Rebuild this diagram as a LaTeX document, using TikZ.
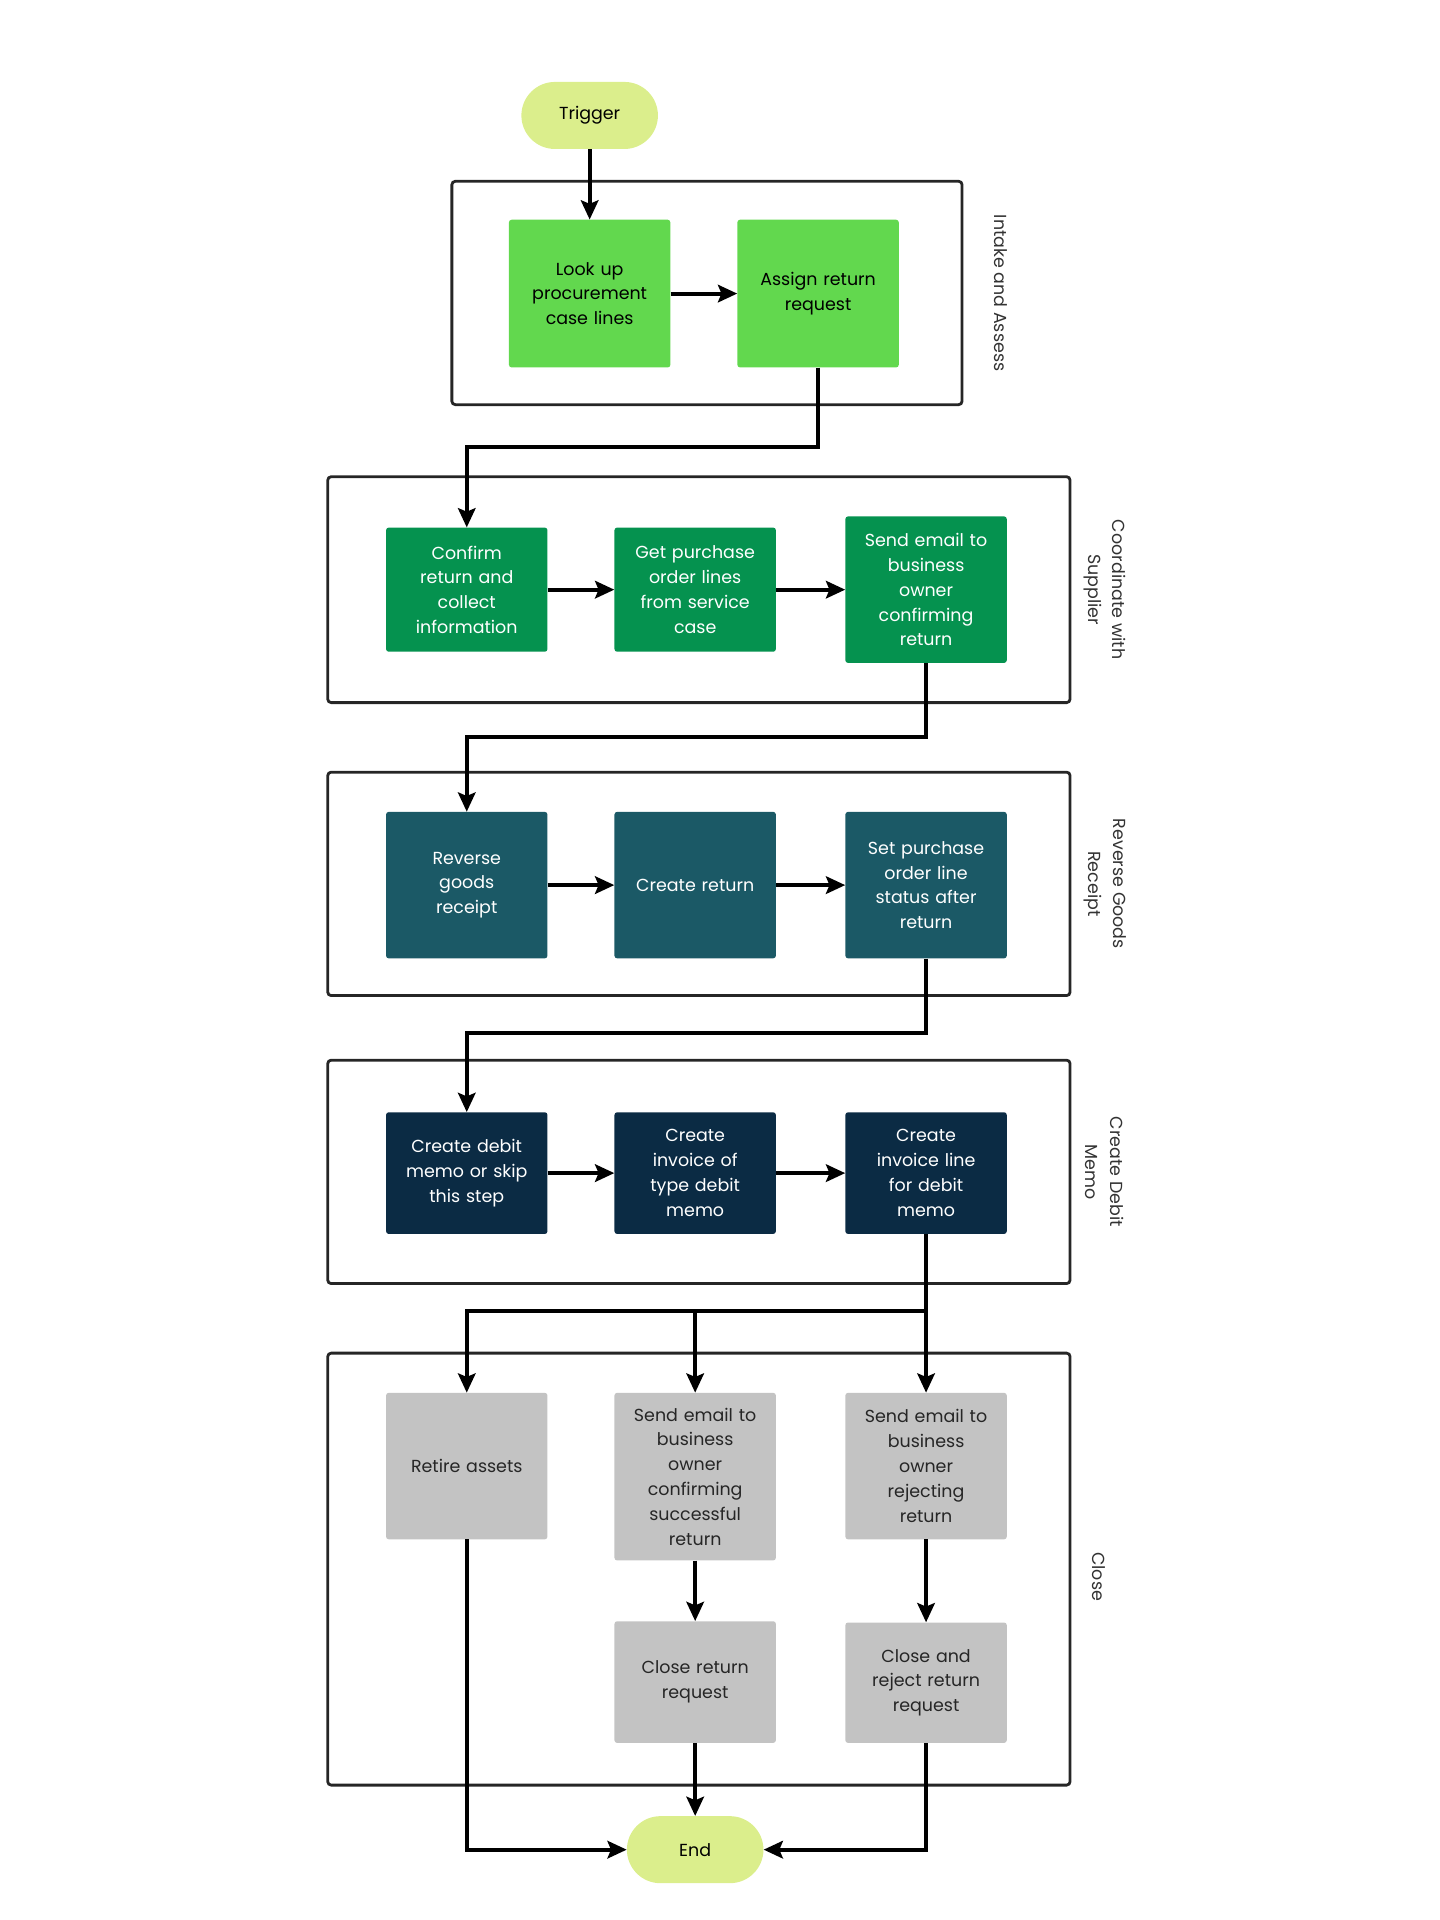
\documentclass[tikz,border=0pt]{standalone}
\usepackage{fontspec}
\setmainfont{Poppins}
\usetikzlibrary{arrows.meta,calc}
\definecolor{term}{HTML}{DBEE8C}
\definecolor{cA}{HTML}{62D84E}
\definecolor{cB}{HTML}{05924F}
\definecolor{cC}{HTML}{1B5966}
\definecolor{cD}{HTML}{0B2B44}
\definecolor{cE}{HTML}{C3C3C3}
\definecolor{lbl}{HTML}{333333}
\begin{document}
\begin{tikzpicture}[x=0.05cm,y=-0.05cm,
  every node/.style={font=\fontsize{20}{28.45}\selectfont},
  box/.style={rectangle,rounded corners=3,minimum width=6.5cm,align=center,text width=6cm,inner sep=0pt},
  g1/.style={box,fill=cA,text=black,minimum height=5.95cm},
  g2/.style={box,fill=cB,text=white},
  g3/.style={box,fill=cC,text=white,minimum height=5.9cm},
  g4/.style={box,fill=cD,text=white},
  g5/.style={box,fill=cE,text=black!85},
  term/.style={rectangle,rounded corners=1.35cm,fill=term,minimum width=5.5cm,minimum height=2.7cm},
  lane/.style={draw=black!85,line width=3.2pt,rounded corners=4},
  lanelbl/.style={rotate=-90,text=lbl,align=center},
  conn/.style={line width=4.6pt,-{Stealth[length=22pt,width=20pt,inset=4pt]}}]
\useasboundingbox (0,0) rectangle (1160,1546.67);
% lanes
\draw[lane] (364,146) rectangle (775,326);
\draw[lane] (264,384) rectangle (862,566);
\draw[lane] (264,622) rectangle (862,802);
\draw[lane] (264,854) rectangle (862,1034);
\draw[lane] (264,1090) rectangle (862,1438);
\node[lanelbl] (l1) at (806,236) {Intake and Assess};
\node[lanelbl] (l2) at (890,475) {Coordinate with\\Supplier};
\node[lanelbl] (l3) at (890,712) {Reverse Goods\\Receipt};
\node[lanelbl] (l4) at (890,944) {Create Debit\\Memo};
\node[lanelbl] (l5) at (885,1270) {Close};
% nodes
\node[term] (trig) at (475,93) {Trigger};
\node[g1] (look) at (475,236.5) {Look up\\procurement\\case lines};
\node[g1] (assign) at (659,236.5) {Assign return\\request};
\node[g2,minimum height=5cm] (confirm) at (376,475) {Confirm\\return and\\collect\\information};
\node[g2,minimum height=5cm] (getpo) at (560,475) {Get purchase\\order lines\\from service\\case};
\node[g2,minimum height=5.9cm] (sendown) at (746,475) {Send email to\\business\\owner\\confirming\\return};
\node[g3] (rev) at (376,713) {Reverse\\goods\\receipt};
\node[g3] (cret) at (560,713) {Create return};
\node[g3] (setpo) at (746,713) {Set purchase\\order line\\status after\\return};
\node[g4,minimum height=4.9cm] (cdm) at (376,945) {Create debit\\memo or skip\\this step};
\node[g4,minimum height=4.9cm] (cinv) at (560,945) {Create\\invoice of\\type debit\\memo};
\node[g4,minimum height=4.9cm] (cil) at (746,945) {Create\\invoice line\\for debit\\memo};
\node[g5,minimum height=5.9cm] (retire) at (376,1181) {Retire assets};
\node[g5,minimum height=6.75cm] (sends) at (560,1189.5) {Send email to\\business\\owner\\confirming\\successful\\return};
\node[g5,minimum height=5.9cm] (sendr) at (746,1181) {Send email to\\business\\owner\\rejecting\\return};
\node[g5,minimum height=4.9cm] (closer) at (560,1355) {Close return\\request};
\node[g5,minimum height=4.85cm] (closej) at (746,1355.5) {Close and\\reject return\\request};
\node[term] (end) at (560,1490) {End};
% connectors
\coordinate (j) at (746,1056);
\draw[conn] (trig) -- (look);
\draw[conn] (look) -- (assign);
\draw[conn] (assign.south) |- (376,360) -- (confirm.north);
\draw[conn] (confirm) -- (getpo);
\draw[conn] (getpo) -- (sendown);
\draw[conn] (sendown.south) |- (376,594) -- (rev.north);
\draw[conn] (rev) -- (cret);
\draw[conn] (cret) -- (setpo);
\draw[conn] (setpo.south) |- (376,832) -- (cdm.north);
\draw[conn] (cdm) -- (cinv);
\draw[conn] (cinv) -- (cil);
\draw[conn] (cil.south) -- (sendr.north);
\draw[conn] (j) -| (retire.north);
\draw[conn] (j) -| (sends.north);
\draw[conn] (sends) -- (closer);
\draw[conn] (sendr) -- (closej);
\draw[conn] (retire.south) |- (end.west);
\draw[conn] (closer) -- (end);
\draw[conn] (closej.south) |- (end.east);
\end{tikzpicture}
\end{document}
